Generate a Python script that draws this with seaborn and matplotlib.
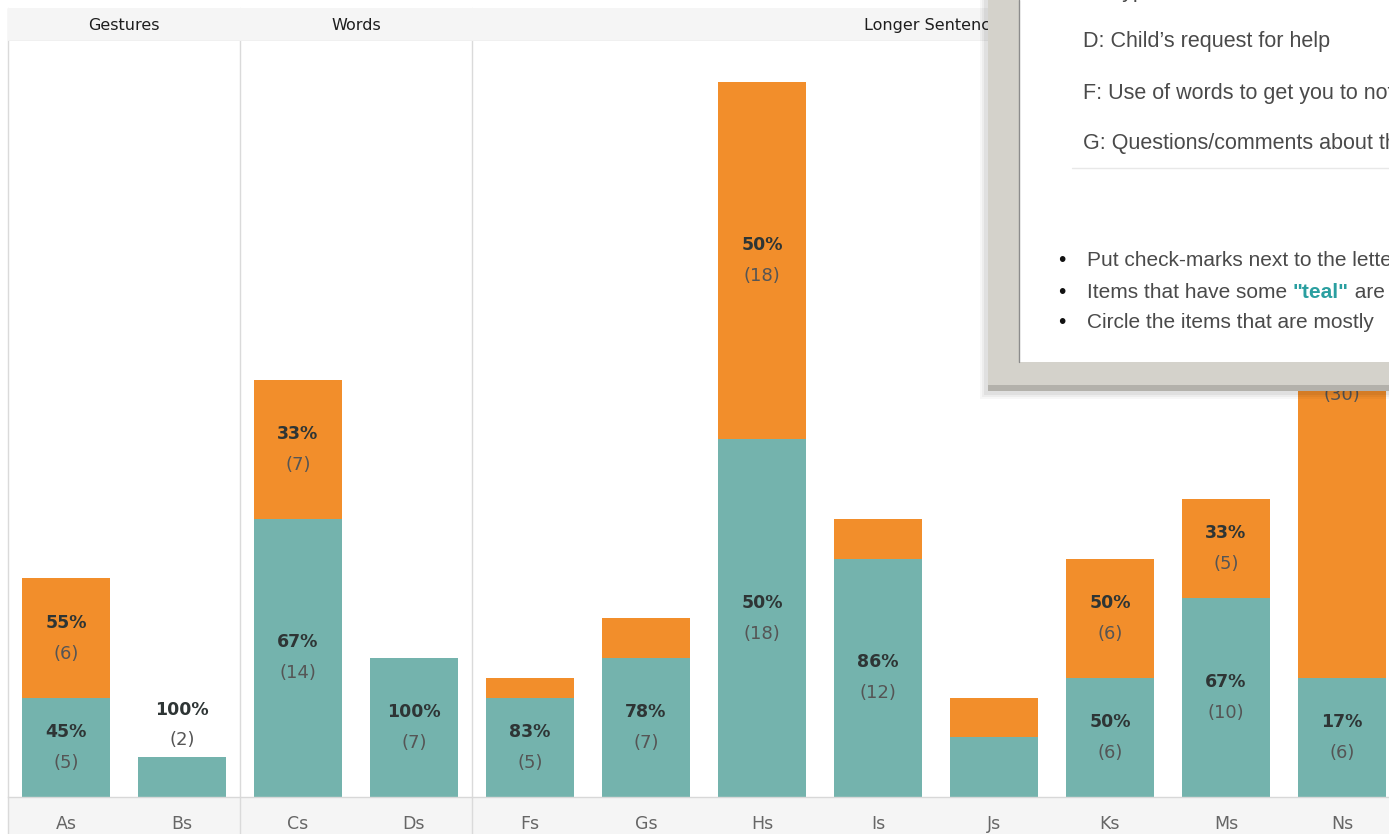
import matplotlib
matplotlib.use("Agg")
import matplotlib.pyplot as plt
from matplotlib.patches import Rectangle
from matplotlib.lines import Line2D
import seaborn as sns
import pandas as pd

# ---------------- data ----------------
categories = ["As", "Bs", "Cs", "Ds", "Fs", "Gs", "Hs", "Is", "Js", "Ks", "Ms", "Ns"]
groups = ["Gestures", "Gestures", "Words", "Words",
          "Longer Sentences", "Longer Sentences", "Longer Sentences", "Longer Sentences",
          "Longer Sentences", "Longer Sentences", "Longer Sentences", "Longer Sentences"]
teal_counts = [5, 2, 14, 7, 5, 7, 18, 12, 3, 6, 10, 6]
orange_counts = [6, 0, 7, 0, 1, 2, 18, 2, 2, 6, 5, 30]
teal_labeled = [True, True, True, True, True, True, True, True, False, True, True, True]
orange_labeled = [True, False, True, False, False, False, True, False, False, True, True, True]
group_names = ["Gestures", "Words", "Longer Sentences"]

popup_lines = ["C: Types of words child uses",
               "D: Child\u2019s request for help",
               "F: Use of words to get you to notice",
               "G: Questions/comments about things"]
bullet_lines = ["Put check-marks next to the letters",
                ["Items that have some ", "\"teal\"", " are"],
                "Circle the items that are mostly"]

TEAL = "#74b3ad"
ORANGE = "#f28e2b"

totals = [t + o for t, o in zip(teal_counts, orange_counts)]
df = pd.DataFrame({"category": categories, "group": groups,
                   "teal": teal_counts, "orange": orange_counts, "total": totals})

W, H = 1389, 834
def fx(px): return px / W
def fy(py): return 1 - py / H

sns.set_theme(style="white")
plt.rcParams["font.family"] = ["DejaVu Sans"]

fig = plt.figure(figsize=(W / 100, H / 100), dpi=100)
fig.patch.set_facecolor("white")

step = 116.0
x0 = 8
ax = fig.add_axes([fx(x0), fy(797), step * 12 / W, (797 - 42) / H])
sns.barplot(data=df, x="category", y="total", color=ORANGE, saturation=1,
            width=0.76, errorbar=None, ax=ax, order=categories, linewidth=0)
sns.barplot(data=df, x="category", y="teal", color=TEAL, saturation=1,
            width=0.76, errorbar=None, ax=ax, order=categories, linewidth=0)
ax.set_xlim(-0.5, 11.5)
ax.set_ylim(0, 38)
ax.set_xlabel("")
ax.set_ylabel("")
ax.set_yticks([])
ax.tick_params(axis="x", length=0, pad=13, labelsize=12.5, labelcolor="#666666")
for s in ["top", "right", "left"]:
    ax.spines[s].set_visible(False)
ax.spines["bottom"].set_color("#d8d8d8")
ax.spines["bottom"].set_linewidth(1)

# bottom band
fig.add_artist(Rectangle((fx(x0), 0), 1 - fx(x0), 37 / H, transform=fig.transFigure,
                         facecolor="#f5f5f5", edgecolor="none", zorder=-1))

# panel separators
hax = (797 - 42)
for xv in [-0.5, 1.5, 3.5]:
    ax.axvline(xv, ymin=-40 / hax, ymax=1 + 34 / hax, color="#dadada", lw=1, clip_on=False, zorder=0)

# labels
pt = 0.72
for i, cat in enumerate(categories):
    t, o, tot = teal_counts[i], orange_counts[i], totals[i]
    segs = []
    if teal_labeled[i]:
        segs.append((t, 0, t))
    if orange_labeled[i] and o > 0:
        segs.append((o, t, tot))
    for cnt, lo, hi in segs:
        pct = f"{round(100 * cnt / tot)}%"
        if cat == "Bs":
            y = hi
            off_p, off_c = 47 * pt, 17 * pt
        else:
            y = (lo + hi) / 2
            off_p, off_c = 15.5 * pt, -15.5 * pt
        ax.annotate(pct, (i, y), xytext=(0, off_p), textcoords="offset points",
                    ha="center", va="center", fontsize=12.5, fontweight="bold", color="#2e3535")
        ax.annotate(f"({cnt})", (i, y), xytext=(0, off_c), textcoords="offset points",
                    ha="center", va="center", fontsize=13, color="#555555")

# header band
hdr = fig.add_axes([fx(x0), fy(41), step * 12 / W, 33 / H])
hdr.set_facecolor("#f5f5f5")
hdr.set_xlim(-0.5, 11.5)
hdr.set_ylim(0, 1)
hdr.set_xticks([])
hdr.set_yticks([])
for s in hdr.spines.values():
    s.set_visible(False)
hdr.axhline(0, color="#dedede", lw=1)
for g in group_names:
    idx = [i for i, gg in enumerate(groups) if gg == g]
    cx = (idx[0] + idx[-1]) / 2
    hdr.text(cx, 0.48, g, ha="center", va="center", fontsize=11.5, color="#1e1e1e")

# ---------------- popup overlay ----------------
def frect(x1, y1, x2, y2, **kw):
    fig.add_artist(Rectangle((fx(x1), fy(y2)), (x2 - x1) / W, (y2 - y1) / H,
                             transform=fig.transFigure, **kw))

for k, a in enumerate([0.03, 0.04, 0.05]):
    d = 8 - 2 * k
    frect(988 - d, -20, 1400, 391 + d, facecolor="black", edgecolor="none", alpha=a, zorder=10)
frect(988, -20, 1400, 391, facecolor="#d4d2cb", edgecolor="none", zorder=11)
frect(988, 385, 1400, 391, facecolor="#b3b1ab", edgecolor="none", zorder=11)
frect(1019, -20, 1400, 362, facecolor="white", edgecolor="none", zorder=12)
fig.add_artist(Line2D([fx(1019), fx(1019)], [fy(362), 1], transform=fig.transFigure,
                      color="#8c8c8c", lw=1, zorder=13))
fig.add_artist(Line2D([fx(1072), 1], [fy(168), fy(168)], transform=fig.transFigure,
                      color="#e8e8e8", lw=1, zorder=13))

PF = ["Liberation Sans", "DejaVu Sans"]
for ypx, s in zip([-8, 42, 93, 143], popup_lines):
    fig.text(fx(1083), fy(ypx), s, ha="left", va="center", fontsize=15.5,
             color="#4a4a4a", family=PF, zorder=14)

for ypx, item in zip([260, 292, 322], bullet_lines):
    fig.text(fx(1058), fy(ypx), "\u2022", ha="left", va="center", fontsize=15,
             color="#111111", family=PF, zorder=14)
    if isinstance(item, str):
        fig.text(fx(1087), fy(ypx), item, ha="left", va="center", fontsize=15,
                 color="#4a4a4a", family=PF, zorder=14)
    else:
        t1 = fig.text(fx(1087), fy(ypx), item[0], ha="left", va="center", fontsize=15,
                      color="#4a4a4a", family=PF, zorder=14)
        t2 = fig.add_artist(plt.Annotation(item[1], xy=(1, 0), xycoords=t1, ha="left", va="bottom",
                                           fontsize=15, fontweight="bold", color="#2a9fa0",
                                           family=PF, zorder=14))
        t3 = fig.add_artist(plt.Annotation(item[2], xy=(1, 0), xycoords=t2, ha="left", va="bottom",
                                           fontsize=15, color="#4a4a4a", family=PF, zorder=14))

fig.savefig("out.png", dpi=100)
